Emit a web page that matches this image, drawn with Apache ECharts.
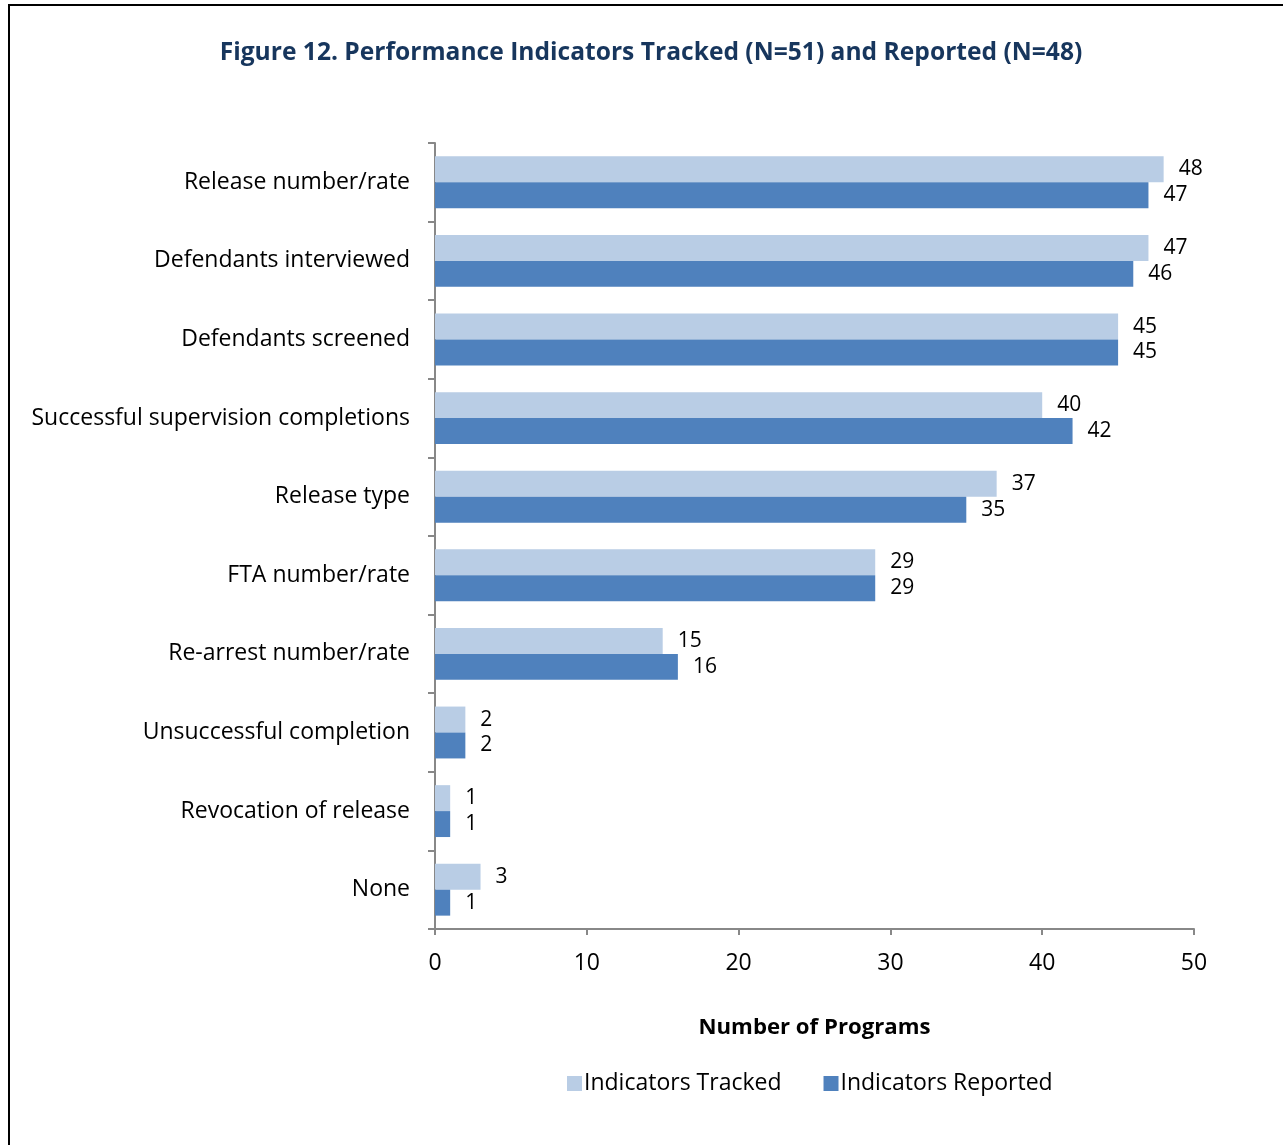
<!DOCTYPE html>
<html>
<head>
<meta charset="utf-8">
<script src="https://cdn.jsdelivr.net/npm/echarts@6/dist/echarts.min.js"></script>
<style>
  html, body { margin: 0; padding: 0; background: #fff; }
  #frame { position: absolute; left: 8px; top: 4px; width: 1290px; height: 1160px;
           border-left: 2px solid #000; border-top: 2px solid #000; }
  #chart { position: absolute; left: 0; top: 0; width: 1283px; height: 1145px; }
</style>
</head>
<body>
<div id="frame"></div>
<div id="chart"></div>
<script>
// Indicator categories, top to bottom
const categories = [
  'Release number/rate',
  'Defendants interviewed',
  'Defendants screened',
  'Successful supervision completions',
  'Release type',
  'FTA number/rate',
  'Re-arrest number/rate',
  'Unsuccessful completion',
  'Revocation of release',
  'None'
];
const tracked  = [48, 47, 45, 40, 37, 29, 15, 2, 1, 3];
const reported = [47, 46, 45, 42, 35, 29, 16, 2, 1, 1];
const xTicks = [0, 10, 20, 30, 40, 50];

const font = '"Open Sans", Lato, sans-serif';
const chart = echarts.init(document.getElementById('chart'), null, { renderer: 'canvas' });

const labelStyle = {
  show: true, position: 'right', distance: 15,
  color: '#000', fontSize: 21, fontFamily: font, padding: [5, 0, 0, 0]
};

chart.setOption({
  animation: false,
  title: {
    text: 'Figure 12. Performance Indicators Tracked (N=51) and Reported (N=48)',
    left: 646, top: 35, textAlign: 'center',
    textStyle: { color: '#17365D', fontSize: 24.6, fontWeight: 'bold', fontFamily: font }
  },
  legend: {
    bottom: 45, left: 562,
    itemWidth: 15, itemHeight: 15, itemGap: 42,
    icon: 'rect',
    textStyle: { color: '#000', fontSize: 23, fontFamily: font, padding: [0, 0, 0, -3] },
    data: ['Indicators Tracked', 'Indicators Reported']
  },
  grid: { left: 435, right: 89, top: 143, bottom: 216, containLabel: false },
  xAxis: {
    type: 'value', min: 0, max: 50, interval: 10,
    name: 'Number of Programs', nameLocation: 'middle', nameGap: 88,
    nameTextStyle: { color: '#000', fontSize: 22.2, fontWeight: 'bold', fontFamily: font },
    axisLine: { show: true, lineStyle: { color: '#888', width: 2 } },
    axisTick: { show: true, length: 6, lineStyle: { color: '#888', width: 2 } },
    axisLabel: { color: '#000', fontSize: 23, fontFamily: font, margin: 23,
                 formatter: v => xTicks.includes(v) ? String(v) : '' },
    splitLine: { show: false }
  },
  yAxis: {
    type: 'category', data: categories, inverse: true,
    axisLine: { show: true, lineStyle: { color: '#888', width: 2 } },
    axisTick: { show: true, length: 7, lineStyle: { color: '#888', width: 2 } },
    axisLabel: { color: '#000', fontSize: 23, fontFamily: font, margin: 25,
                 padding: [7, 0, 0, 0] }
  },
  series: [
    {
      name: 'Indicators Tracked', type: 'bar', data: tracked,
      barGap: '0%', barCategoryGap: '34%',
      itemStyle: { color: '#B9CDE5' }, label: labelStyle
    },
    {
      name: 'Indicators Reported', type: 'bar', data: reported,
      barGap: '0%', barCategoryGap: '34%',
      itemStyle: { color: '#4F81BD' }, label: labelStyle
    }
  ]
});
</script>
</body>
</html>
